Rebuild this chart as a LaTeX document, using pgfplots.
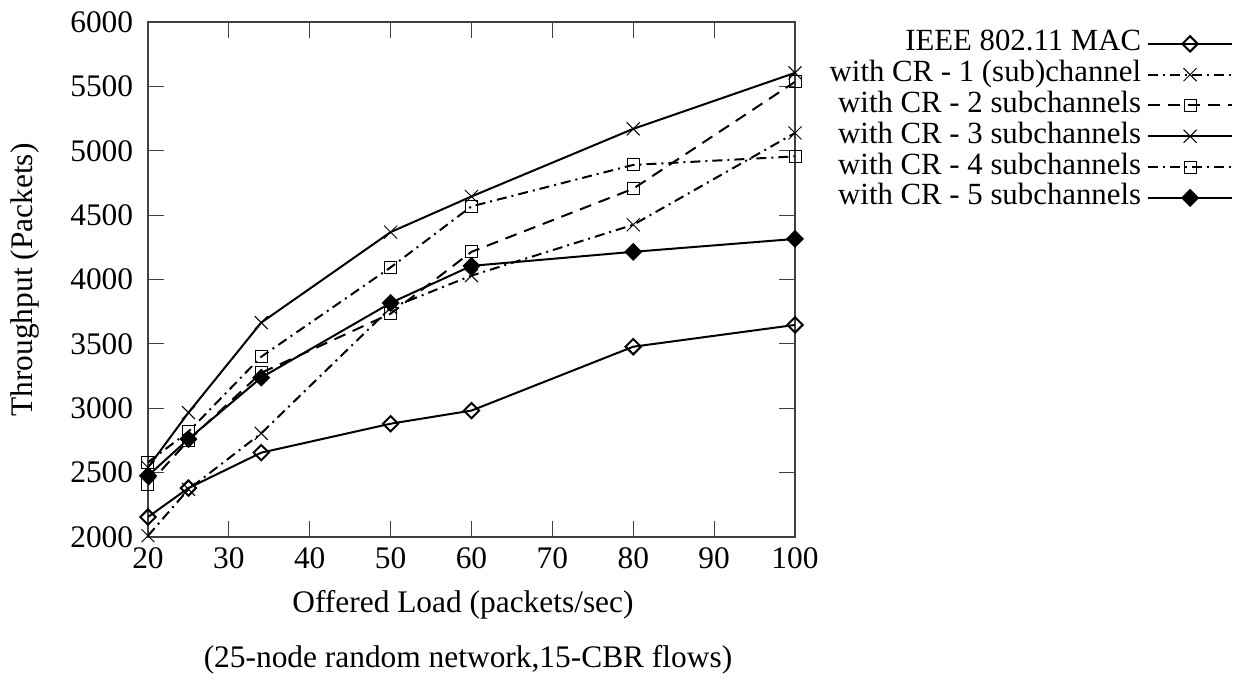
\documentclass[border=0pt]{standalone}
\usepackage{fontspec}
\setmainfont{Liberation Serif}
\usepackage{pgfplots}
\pgfplotsset{compat=1.18}
\begin{document}
\fontsize{15.7}{18}\selectfont
\begin{tikzpicture}[x=1pt,y=1pt]
\useasboundingbox (-74,-74) rectangle (547.5,268.5);
\begin{axis}[
  at={(0,0)}, anchor=south west,
  scale only axis, width=323.5pt, height=257.5pt,
  xmin=20, xmax=100, ymin=2000, ymax=6000,
  xtick={20,30,...,100}, ytick={2000,2500,...,6000},
  tick align=inside, major tick length=8pt,
  axis line style={black!75, line width=0.6pt},
  tick style={black!75, line width=0.6pt},
  scaled ticks=false,
  /pgf/number format/1000 sep={},
  /pgf/number format/assume math mode=true,
  ticklabel style={font=\fontsize{15.7}{18}\selectfont},
  yticklabel style={xshift=-2pt},
  legend style={draw=none, fill=none, at={(axis description cs:1.687,0.996)}, anchor=north east,
    row sep=0pt, column sep=2pt, font=\fontsize{15.4}{17}\selectfont,
    nodes={inner xsep=1pt, inner ysep=0pt, text height=11.2pt, text depth=4.2pt}},
  legend cell align=right,
  legend plot pos=right,
  legend image code/.code={\draw[mark repeat=2,mark phase=2,#1] plot coordinates {(0pt,0pt) (21pt,0pt) (42pt,0pt)};},
  every axis plot/.append style={line width=1pt, black, mark options={solid, line width=0.5pt}},
]
\addplot[mark=square, mark size=2.7pt, mark options={rotate=45}] coordinates {(20,2155) (25,2380) (34,2655) (50,2880) (60,2982) (80,3478) (100,3647)};
\addlegendentry{IEEE 802.11 MAC}
\addplot[dash pattern=on 5pt off 2.5pt on 1pt off 2.5pt, mark=x, mark size=4.6pt] coordinates {(20,2010) (25,2370) (34,2805) (50,3780) (60,4030) (80,4425) (100,5138)};
\addlegendentry{with CR - 1 (sub)channel}
\addplot[dash pattern=on 6pt off 4pt, mark=square, mark size=3pt] coordinates {(20,2404) (25,2750) (34,3275) (50,3735) (60,4215) (80,4705) (100,5535)};
\addlegendentry{with CR - 2 subchannels}
\addplot[mark=x, mark size=4.6pt] coordinates {(20,2540) (25,2966) (34,3665) (50,4368) (60,4645) (80,5170) (100,5605)};
\addlegendentry{with CR - 3 subchannels}
\addplot[dash pattern=on 5pt off 2.5pt on 1pt off 2.5pt, mark=square, mark size=3pt] coordinates {(20,2580) (25,2818) (34,3400) (50,4094) (60,4568) (80,4890) (100,4956)};
\addlegendentry{with CR - 4 subchannels}
\addplot[mark=square*, mark size=2.7pt, mark options={rotate=45, fill=black}] coordinates {(20,2476) (25,2761) (34,3238) (50,3818) (60,4106) (80,4215) (100,4315)};
\addlegendentry{with CR - 5 subchannels}
\end{axis}
\node[rotate=90] at (-61.5,128.5) {Throughput (Packets)};
\node at (157.5,-34) {Offered Load (packets/sec)};
\node at (160,-61.5) {(25-node random network,15-CBR flows)};
\end{tikzpicture}
\end{document}
